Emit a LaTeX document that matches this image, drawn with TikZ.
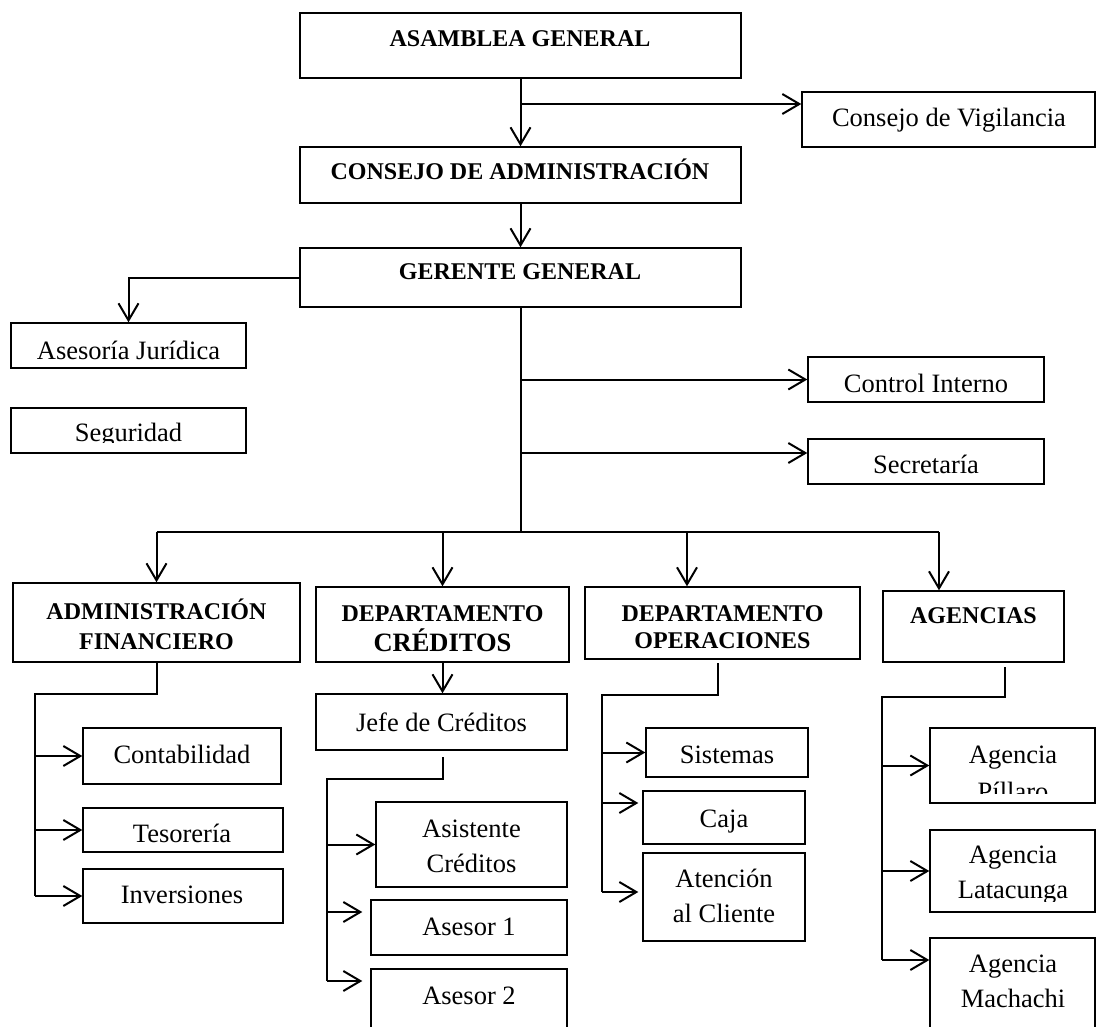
\documentclass[tikz,border=0pt]{standalone}
\usepackage{fontspec}
\setmainfont{Liberation Serif}
\usetikzlibrary{arrows.meta}

% box given by its corners: name, x1, y1, x2, y2
\newcommand\orgbox[5]{%
  \node[box, minimum width={(#4-#2)*1pt}, minimum height={(#5-#3)*1pt}]
    (#1) at ({(#2+#4)/2},{(#3+#5)/2}) {};}

\begin{document}
\begin{tikzpicture}[x=1pt,y=-1pt,
  box/.style={draw, rectangle, line width=1.4pt, inner sep=0pt},
  lbl/.style={inner sep=0pt, anchor=base, align=center,
              font=\fontsize{26.5}{35}\selectfont},
  head/.style={inner sep=0pt, anchor=base, align=center,
               font=\fontsize{24}{30}\selectfont\bfseries},
  link/.style={line width=2pt},
  arr/.style={link, -{Straight Barb[length=17pt,width=20pt]}},
]
\useasboundingbox (0,0) rectangle (1097,1027);
\clip (0,0) rectangle (1097,1027);

% ---------- boxes ----------
\orgbox{ag}{300}{13}{741}{78}
\orgbox{cv}{802}{92}{1095}{147}
\orgbox{ca}{300}{147}{741}{203}
\orgbox{gg}{300}{248}{741}{307}
\orgbox{aj}{11}{323}{246}{368}
\orgbox{seg}{11}{408}{246}{453}
\orgbox{ci}{808}{357}{1044}{402}
\orgbox{sec}{808}{439}{1044}{484}
\orgbox{af}{13}{583}{300}{662}
\orgbox{dc}{316}{587}{569}{662}
\orgbox{do}{585}{587}{860}{659}
\orgbox{agn}{883}{591}{1064}{662}
\orgbox{jc}{316}{694}{567}{750}
\orgbox{cont}{83}{728}{281}{784}
\orgbox{tes}{83}{808}{283}{852}
\orgbox{inv}{83}{869}{283}{923}
\orgbox{asi}{376}{802}{567}{887}
\orgbox{as1}{371}{900}{567}{955}
\orgbox{as2}{371}{969}{567}{1045}
\orgbox{sis}{646}{728}{808}{777}
\orgbox{caja}{643}{791}{805}{844}
\orgbox{ate}{643}{853}{805}{941}
\orgbox{pil}{930}{728}{1095}{803}
\orgbox{lat}{930}{830}{1095}{912}
\orgbox{mac}{930}{938}{1095}{1060}

% ---------- texts ----------
\node[head] (ag-t) at (520,47) {ASAMBLEA GENERAL};
\node[head] (ca-t) at (520,179) {CONSEJO DE ADMINISTRACIÓN};
\node[head] (gg-t) at (520,279) {GERENTE GENERAL};
\node[lbl] (cv-t) at (949,127) {Consejo de Vigilancia};
\node[lbl] (aj-t) at (128.5,359) {Asesoría Jurídica};
\begin{scope}
  \clip (seg.north west) rectangle (seg.east |- 0,442);
  \node[lbl] (seg-t) at (128.5,441) {Seguridad};
\end{scope}
\node[lbl] (ci-t) at (926,392) {Control Interno};
\node[lbl] (sec-t) at (926,473) {Secretaría};

\node[head] (af-t) at (156.5,649) {ADMINISTRACIÓN\\FINANCIERO};
\node[head] (dc-t) at (442.5,651) {DEPARTAMENTO\\{\fontsize{26.5}{30}\selectfont CRÉDITOS}};
\node[head, font=\fontsize{24}{27}\selectfont\bfseries] (do-t) at (722.5,648) {DEPARTAMENTO\\OPERACIONES};
\node[head] (agn-t) at (973.5,623) {AGENCIAS};

\node[lbl] (jc-t) at (441.5,731) {Jefe de Créditos};
\node[lbl] (cont-t) at (182,763) {Contabilidad};
\node[lbl] (tes-t) at (182,842) {Tesorería};
\node[lbl] (inv-t) at (182,903) {Inversiones};
\node[lbl] (asi-t) at (471.5,872) {Asistente\\Créditos};
\node[lbl] (as1-t) at (469,935) {Asesor 1};
\node[lbl] (as2-t) at (469,1004) {Asesor 2};
\node[lbl] (sis-t) at (727,763) {Sistemas};
\node[lbl] (caja-t) at (724,827) {Caja};
\node[lbl] (ate-t) at (724,922) {Atención\\al Cliente};
\begin{scope}
  \clip (pil.north west) rectangle (pil.east |- 0,793);
  \node[lbl, font=\fontsize{26.5}{37}\selectfont] (pil-t) at (1013,800) {Agencia\\Píllaro};
\end{scope}
\begin{scope}
  \clip (lat.north west) rectangle (lat.east |- 0,901);
  \node[lbl] (lat-t) at (1013,898) {Agencia\\Latacunga};
\end{scope}
\node[lbl] (mac-t) at (1013,1007) {Agencia\\Machachi};

% ---------- top levels ----------
\draw[arr] (ag.south) -- (ca.north);
\coordinate (j1) at (ag.south |- 0,104);
\draw[arr] (j1) -- (j1 -| cv.west);
\draw[arr] (ca.south) -- (gg.north);
\draw[arr] (gg.west) -| (aj.north);

\coordinate (bus) at (gg.south |- 0,532);
\draw[link] (gg.south) -- (bus);
\coordinate (k1) at (gg.south |- ci.west);
\draw[arr] (k1) -- (ci.west);
\coordinate (k2) at (gg.south |- 0,453);
\draw[arr] (k2) -- (k2 -| sec.west);

% ---------- bus to the departments ----------
\coordinate (bL) at (af.north |- bus);
\coordinate (bR) at (939,532);
\draw[link] (bL) -- (bR);
\draw[arr] (bL) -- (af.north);
\coordinate (d2) at (dc.north |- bus);
\draw[arr] (d2) -- (dc.north);
\coordinate (d3) at (687,532);
\draw[arr] (d3) -- (d3 |- do.north);
\draw[arr] (bR) -- (bR |- agn.north);

% ---------- financial administration ----------
\coordinate (a1) at (35,694);
\coordinate (a2) at (a1 |- inv.west);
\draw[link] (af.south) |- (a1) -- (a2);
\draw[arr] (a1 |- cont.west) -- (cont.west);
\draw[arr] (a1 |- tes.west) -- (tes.west);
\draw[arr] (a2) -- (inv.west);

% ---------- credit department ----------
\draw[arr] (dc.south) -- (dc.south |- jc.north);
\coordinate (c0) at (443,757);
\coordinate (c1) at (327,779);
\coordinate (c2) at (327,981);
\draw[link] (c0) |- (c1) -- (c2);
\draw[arr] (c1 |- asi.west) -- (asi.west);
\coordinate (c3) at (327,912);
\draw[arr, shorten >=8pt] (c3) -- (c3 -| as1.west);
\draw[arr, shorten >=8pt] (c2) -- (c2 -| as2.west);

% ---------- operations department ----------
\coordinate (o0) at (718,663);
\coordinate (o1) at (602,695);
\coordinate (o2) at (602,892);
\draw[link] (o0) |- (o1) -- (o2);
\draw[arr] (o1 |- sis.west) -- (sis.west);
\coordinate (o3) at (602,803);
\draw[arr, shorten >=4pt] (o3) -- (o3 -| caja.west);
\draw[arr, shorten >=4pt] (o2) -- (o2 -| ate.west);

% ---------- agencies ----------
\coordinate (g0) at (1005,667);
\coordinate (g1) at (882,697);
\coordinate (g2) at (882,960);
\draw[link] (g0) |- (g1) -- (g2);
\draw[arr] (g1 |- pil.west) -- (pil.west);
\draw[arr] (g1 |- lat.west) -- (lat.west);
\draw[arr] (g2) -- (g2 -| mac.west);
\end{tikzpicture}
\end{document}
